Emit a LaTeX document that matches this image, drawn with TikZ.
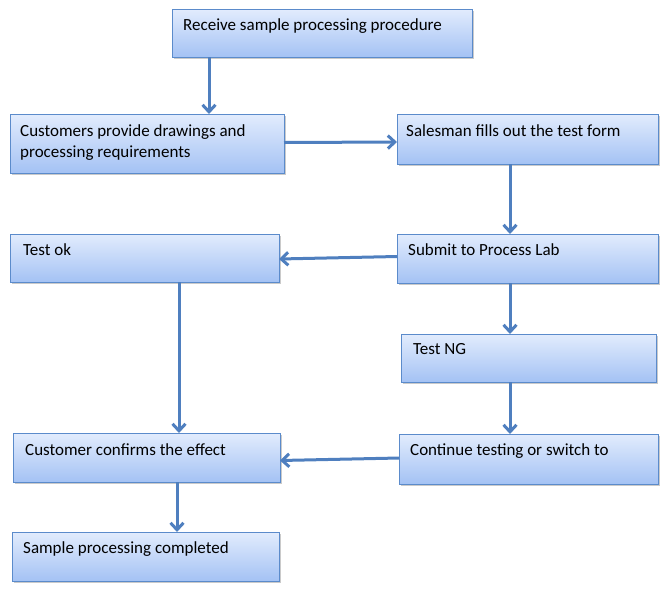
\documentclass[tikz,border=0pt]{standalone}
\usepackage{fontspec}
\setmainfont{Carlito}
\usetikzlibrary{arrows.meta,shadows}
\definecolor{boxtop}{HTML}{E2ECFD}
\definecolor{boxbot}{HTML}{A4C2F4}
\definecolor{boxline}{HTML}{5B8BCB}
\definecolor{arrcol}{HTML}{4F7FBF}
\tikzset{
  box/.style={rectangle, draw=boxline, line width=0.9pt, top color=boxtop, bottom color=boxbot,
    anchor=north west, inner sep=0pt, outer sep=0pt,
    drop shadow={shadow xshift=1.6pt, shadow yshift=-1.6pt, opacity=0.35, fill=black!60}},
  lbl/.style={anchor=base west, inner sep=0pt, font=\fontsize{17}{21}\selectfont, text=black},
  arr/.style={draw=arrcol, line width=3pt, -{Straight Barb[length=7pt,width=13pt]}}
}
\newcommand{\mybox}[5]{%
  \node[box, minimum width=#4pt-#2pt, minimum height=#5pt-#3pt] (#1) at (#2pt,-#3pt) {};}
\begin{document}
\begin{tikzpicture}
\useasboundingbox (0,0) rectangle (669pt,-590pt);
\mybox{r}{172}{9}{472}{57}
\mybox{c}{10}{114}{284}{173}
\mybox{s}{397}{114}{658}{164}
\mybox{ok}{10}{234}{279}{282}
\mybox{sub}{397}{234}{658}{283}
\mybox{ng}{401}{334}{656}{382}
\mybox{cont}{399}{434}{658}{484}
\mybox{conf}{13}{433}{280}{482}
\mybox{done}{12}{532}{279}{581}

\node[lbl] (rt) at (183pt,-30.5pt) {Receive sample processing procedure};
\node[lbl, text width=250pt, align=flush left] (ct) at (20pt,-136.5pt) {Customers provide drawings and\\processing requirements};
\node[lbl] (st) at (406pt,-136pt) {Salesman fills out the test form};
\node[lbl] (okt) at (23pt,-255pt) {Test ok};
\node[lbl] (subt) at (408pt,-255pt) {Submit to Process Lab};
\node[lbl] (ngt) at (413pt,-354pt) {Test NG};
\node[lbl] (contt) at (410pt,-455.5pt) {Continue testing or switch to};
\node[lbl] (conft) at (25pt,-455pt) {Customer confirms the effect};
\node[lbl] (donet) at (23pt,-553pt) {Sample processing completed};

\coordinate (xa) at (209pt,0);
\coordinate (xb) at (510pt,0);
\coordinate (xc) at (179pt,0);
\coordinate (xd) at (177pt,0);

\draw[arr] (r.south -| xa) -- (c.north -| xa);
\draw[arr] ([yshift=1pt]c.east) -- ([yshift=-3pt]s.west);
\draw[arr] (s.south -| xb) -- (sub.north -| xb);
\draw[arr] ([yshift=2pt]sub.west) -- ([yshift=-1pt]ok.east);
\draw[arr] (sub.south -| xb) -- (ng.north -| xb);
\draw[arr] (ng.south -| xb) -- (cont.north -| xb);
\draw[arr] (ok.south -| xc) -- (conf.north -| xc);
\draw[arr] ([yshift=1pt]cont.west) -- ([yshift=-3pt]conf.east);
\draw[arr] (conf.south -| xd) -- (done.north -| xd);
\end{tikzpicture}
\end{document}
